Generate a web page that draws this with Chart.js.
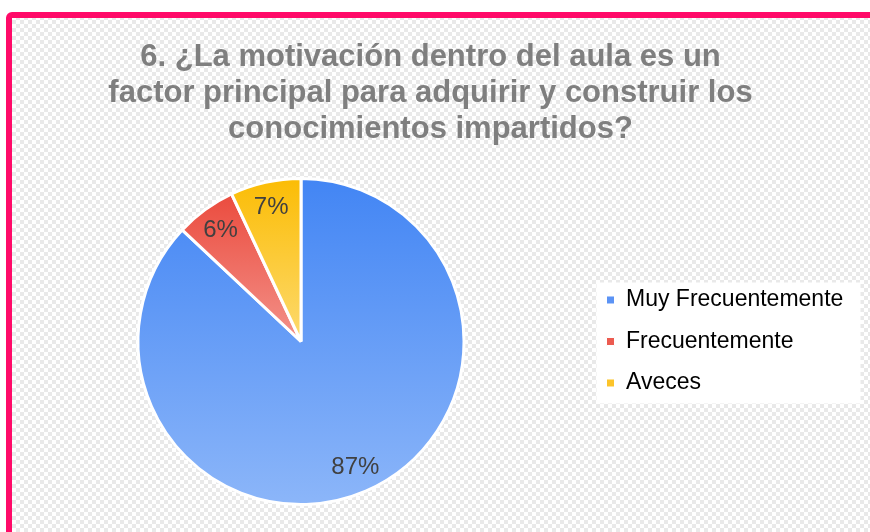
<!DOCTYPE html>
<html>
<head>
<meta charset="utf-8">
<script src="https://cdn.jsdelivr.net/npm/chart.js@4.4.1/dist/chart.umd.min.js"></script>
<style>
html,body{margin:0;padding:0;background:#ffffff;overflow:hidden}
#wrap{width:870px;height:532px;position:relative}
</style>
</head>
<body>
<div id="wrap"><canvas id="c" width="870" height="532"></canvas></div>
<script>
// ---- data ----
const titleLines = [
  '6. ¿La motivación dentro del aula es un',
  'factor principal para adquirir y construir los',
  'conocimientos impartidos?'
];
const categories = ['Muy Frecuentemente', 'Frecuentemente', 'Aveces'];
const percentages = [87, 6, 7];
const percentLabels = ['87%', '6%', '7%'];

// ---- style ----
const sliceTopColors = ['#4285f4', '#ea4335', '#fbbc04'];
const sliceBottomColors = ['#8cb6f9', '#f3928a', '#fdda6e'];
const legendColors = ['#5b93f5', '#ec5b50', '#fcc42a'];
const FONT = "'Liberation Sans', Arial, sans-serif";

function makeChecker(ctx) {
  const p = document.createElement('canvas');
  p.width = 8; p.height = 8;
  const g = p.getContext('2d');
  g.fillStyle = '#ffffff'; g.fillRect(0, 0, 8, 8);
  g.fillStyle = '#e9e9e9';
  g.fillRect(0, 0, 4, 4); g.fillRect(4, 4, 4, 4);
  return ctx.createPattern(p, 'repeat');
}

const backgroundPlugin = {
  id: 'frameBackground',
  beforeDraw(chart) {
    const ctx = chart.ctx;
    ctx.save();
    ctx.fillStyle = '#ffffff';
    ctx.fillRect(0, 0, chart.width, chart.height);
    ctx.fillStyle = makeChecker(ctx);
    ctx.fillRect(11, 17, chart.width, chart.height);
    // pink frame
    ctx.strokeStyle = '#ff0a68';
    ctx.lineWidth = 6;
    ctx.beginPath();
    ctx.roundRect(9, 15, chart.width + 20, chart.height + 20, 3);
    ctx.stroke();
    // white legend panel
    const lg = chart.legend;
    if (lg && lg.legendHitBoxes && lg.legendHitBoxes.length) {
      const hb = lg.legendHitBoxes;
      const l = hb[0].left - 10;
      const t = hb[0].top - 6;
      const b = hb[hb.length - 1].top + hb[hb.length - 1].height + 9;
      ctx.fillStyle = '#ffffff';
      ctx.fillRect(l, t, 264, b - t);
    }
    ctx.restore();
  }
};

const percentLabelPlugin = {
  id: 'percentLabels',
  afterDatasetsDraw(chart) {
    const ctx = chart.ctx;
    const meta = chart.getDatasetMeta(0);
    ctx.save();
    ctx.font = '24px ' + FONT;
    ctx.fillStyle = '#404040';
    ctx.textAlign = 'center';
    ctx.textBaseline = 'middle';
    meta.data.forEach((arc, i) => {
      const p = arc.getProps(['x', 'y', 'startAngle', 'endAngle', 'outerRadius']);
      const mid = (p.startAngle + p.endAngle) / 2;
      const rr = p.outerRadius * 0.84;
      ctx.fillText(percentLabels[i], p.x + Math.cos(mid) * rr, p.y + Math.sin(mid) * rr);
    });
    ctx.restore();
  }
};

new Chart(document.getElementById('c'), {
  type: 'pie',
  data: {
    labels: categories,
    datasets: [{
      data: percentages,
      backgroundColor: (c) => {
        const chart = c.chart;
        const a = chart.chartArea;
        const i = c.dataIndex;
        if (!a) return sliceTopColors[i];
        const cy = (a.top + a.bottom) / 2;
        const r = Math.min(a.width, a.height) / 2;
        const y0 = cy - r;
        const y1 = i === 0 ? cy + r : cy;
        const g = chart.ctx.createLinearGradient(0, y0, 0, y1);
        g.addColorStop(0, sliceTopColors[i]);
        g.addColorStop(1, sliceBottomColors[i]);
        return g;
      },
      borderColor: '#ffffff',
      borderWidth: 3
    }]
  },
  options: {
    responsive: false,
    animation: false,
    layout: { padding: { left: 14, right: 23, top: 0, bottom: 26 } },
    plugins: {
      title: {
        display: true,
        text: titleLines,
        color: '#7f7f7f',
        font: { family: FONT, size: 31, weight: 'bold', lineHeight: 1.161 },
        padding: { top: 39, bottom: 30 }
      },
      legend: {
        position: 'right',
        fullSize: false,
        maxWidth: 259,
        labels: {
          color: '#595959',
          font: { family: FONT, size: 23 },
          boxWidth: 8,
          boxHeight: 8,
          padding: 18.5,
          generateLabels: (chart) => categories.map((name, i) => ({
            text: name,
            fillStyle: legendColors[i],
            strokeStyle: '#ffffff',
            lineWidth: 1,
            hidden: false,
            index: i
          }))
        }
      },
      tooltip: { enabled: false }
    }
  },
  plugins: [backgroundPlugin, percentLabelPlugin]
});
</script>
</body>
</html>
